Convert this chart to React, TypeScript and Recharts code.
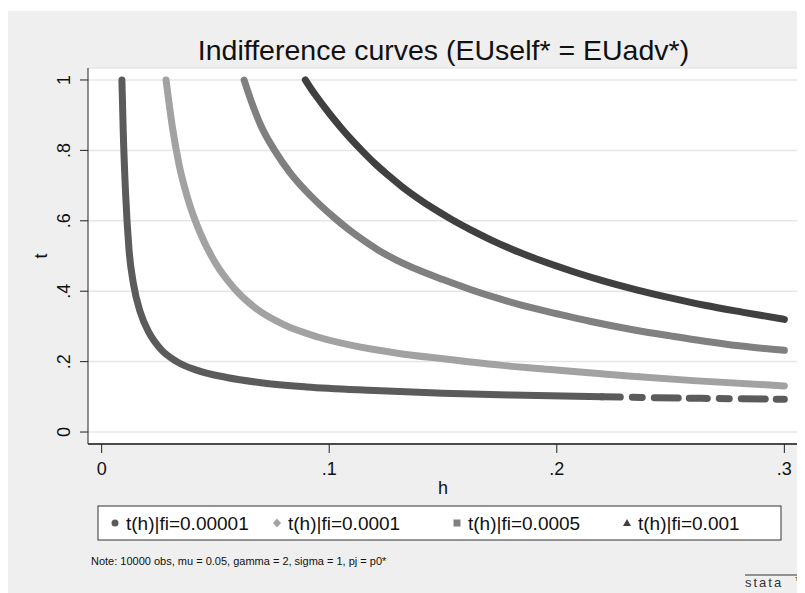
import React from 'react';
import { LineChart, Line, XAxis, YAxis, CartesianGrid } from 'recharts';

// values
const hS1 = [0.0089, 0.0095, 0.0105, 0.012, 0.014, 0.017, 0.021, 0.026, 0.033, 0.042, 0.055, 0.07, 0.09, 0.12, 0.15, 0.18, 0.22, 0.26, 0.3];
const tS1 = [1.0, 0.85, 0.68, 0.52, 0.42, 0.34, 0.28, 0.235, 0.2, 0.175, 0.155, 0.14, 0.128, 0.118, 0.11, 0.105, 0.1, 0.096, 0.093];

const hS2 = [0.0283, 0.031, 0.034, 0.038, 0.043, 0.05, 0.058, 0.068, 0.08, 0.095, 0.11, 0.13, 0.15, 0.175, 0.2, 0.23, 0.26, 0.3];
const tS2 = [1.0, 0.87, 0.76, 0.66, 0.57, 0.48, 0.41, 0.35, 0.305, 0.27, 0.246, 0.224, 0.208, 0.19, 0.176, 0.16, 0.146, 0.131];

const hS3 = [0.0626, 0.066, 0.07, 0.076, 0.083, 0.092, 0.102, 0.108, 0.115, 0.122, 0.13, 0.14, 0.15, 0.162, 0.175, 0.187, 0.2, 0.215, 0.234, 0.25, 0.265, 0.28, 0.3];
const tS3 = [1.0, 0.935, 0.87, 0.8, 0.735, 0.67, 0.61, 0.578, 0.545, 0.515, 0.487, 0.458, 0.433, 0.405, 0.378, 0.356, 0.336, 0.314, 0.29, 0.273, 0.258, 0.245, 0.232];

const hS4 = [0.0895, 0.092, 0.095, 0.098, 0.102, 0.106, 0.11, 0.115, 0.12, 0.126, 0.132, 0.139, 0.146, 0.154, 0.162, 0.171, 0.18, 0.193, 0.207, 0.22, 0.235, 0.25, 0.265, 0.282, 0.3];
const tS4 = [1.0, 0.975, 0.948, 0.922, 0.889, 0.858, 0.829, 0.795, 0.763, 0.729, 0.697, 0.664, 0.634, 0.603, 0.575, 0.546, 0.52, 0.487, 0.456, 0.43, 0.404, 0.381, 0.36, 0.34, 0.32];

// h from which the first series breaks into separate dots
const s1TailStart = 0.22;

const seriesNames = ['t(h)|fi=0.00001', 't(h)|fi=0.0001', 't(h)|fi=0.0005', 't(h)|fi=0.001'];
const seriesColors = ['#5b5b5b', '#a2a2a2', '#808080', '#404040'];

const xTicks = [0, 0.1, 0.2, 0.3];
const yTicks = [0, 0.2, 0.4, 0.6, 0.8, 1];

const zip = (hs: number[], ts: number[]) => hs.map((h, i) => ({ h, t: ts[i] }));
const s1All = zip(hS1, tS1);
const s1Head = s1All.filter((p) => p.h <= s1TailStart);
const s1Tail = s1All.filter((p) => p.h >= s1TailStart);
const seriesData = [s1Head, zip(hS2, tS2), zip(hS3, tS3), zip(hS4, tS4)];

const fmt = (v: number) => (v === 0 ? '0' : v === 1 ? '1' : String(v).replace(/^0/, ''));

const FONT = '"Liberation Sans", Arial, sans-serif';
const W = 797;
const H = 582;

const XTick = (props: any) => {
  const { x, payload } = props;
  return (
    <text x={x} y={464} textAnchor="middle" fontSize={18} fontFamily={FONT} fill="#111">
      {fmt(payload.value)}
    </text>
  );
};

const YTick = (props: any) => {
  const { y, payload } = props;
  return (
    <text x={62} y={y} transform={`rotate(-90, 62, ${y})`} textAnchor="middle" fontSize={18} fontFamily={FONT} fill="#111">
      {fmt(payload.value)}
    </text>
  );
};

const Marker = ({ i, x, y }: { i: number; x: number; y: number }) => {
  const c = seriesColors[i];
  if (i === 0) return <circle cx={x} cy={y} r={3.5} fill={c} />;
  if (i === 1) return <polygon points={`${x},${y - 4.5} ${x + 4},${y} ${x},${y + 4.5} ${x - 4},${y}`} fill={c} />;
  if (i === 2) return <rect x={x - 3.5} y={y - 3.5} width={7} height={7} fill={c} />;
  return <polygon points={`${x},${y - 4} ${x + 4},${y + 3} ${x - 4},${y + 3}`} fill={c} />;
};

const legendX = [107, 269, 449, 619];

export default function App() {
  return (
    <div style={{ position: 'relative', width: W, height: H, marginTop: 3, background: '#efefef' }}>
      <LineChart width={W} height={H} margin={{ top: 57, right: 7, bottom: 109, left: 0 }} style={{ position: 'absolute', left: 0, top: 0 }}>
        <CartesianGrid vertical={false} fill="#ffffff" stroke="#e6e6e6" strokeWidth={1.5} />
        <XAxis
          type="number"
          dataKey="h"
          domain={[-0.006, 0.306]}
          ticks={xTicks}
          allowDataOverflow
          height={40}
          tickSize={9}
          tick={<XTick />}
          stroke="#4a4a4a"
          strokeWidth={2}
          tickLine={{ stroke: '#222', strokeWidth: 1 }}
        />
        <YAxis
          type="number"
          dataKey="t"
          domain={[-0.034, 1.034]}
          ticks={yTicks}
          allowDataOverflow
          width={80}
          tickSize={8}
          tick={<YTick />}
          stroke="#222"
          tickLine={{ stroke: '#222', strokeWidth: 1 }}
        />
        {seriesData.map((d, i) => (
          <Line
            key={seriesNames[i]}
            data={d}
            dataKey="t"
            name={seriesNames[i]}
            type="monotone"
            stroke={seriesColors[i]}
            strokeWidth={7}
            strokeLinecap="round"
            dot={false}
            isAnimationActive={false}
          />
        ))}
        <Line
          data={s1Tail}
          dataKey="t"
          type="monotone"
          stroke={seriesColors[0]}
          strokeWidth={7}
          strokeLinecap="round"
          strokeDasharray="18 12 10 12 24 11"
          dot={false}
          legendType="none"
          isAnimationActive={false}
        />
      </LineChart>
      <svg width={W} height={H} style={{ position: 'absolute', left: 0, top: 0, pointerEvents: 'none' }} fontFamily={FONT}>
        <text x={435.5} y={49} textAnchor="middle" fontSize={28.5} fill="#111">
          Indifference curves (EUself* = EUadv*)
        </text>
        <text x={39} y={245} transform="rotate(-90, 39, 245)" textAnchor="middle" fontSize={18} fill="#111">
          t
        </text>
        <text x={435} y={483} textAnchor="middle" fontSize={18} fill="#111">
          h
        </text>
        <rect x={90} y={495} width={683} height={34} fill="#fff" stroke="#333" strokeWidth={1} />
        {seriesNames.map((n, i) => (
          <g key={n}>
            <Marker i={i} x={legendX[i]} y={512} />
            <text x={legendX[i] + 11} y={518.5} fontSize={19} fill="#111">
              {n}
            </text>
          </g>
        ))}
        <text x={83} y={554} fontSize={11} fill="#111">
          Note: 10000 obs, mu = 0.05, gamma = 2, sigma = 1, pj = p0*
        </text>
        <line x1={737} y1={564} x2={791} y2={564} stroke="#333" strokeWidth={1} />
        <text x={737} y={576} fontSize={13} letterSpacing={2} fill="#333">
          stata
        </text>
        <text x={787} y={570} fontSize={6} fill="#333">
          TM
        </text>
      </svg>
    </div>
  );
}
